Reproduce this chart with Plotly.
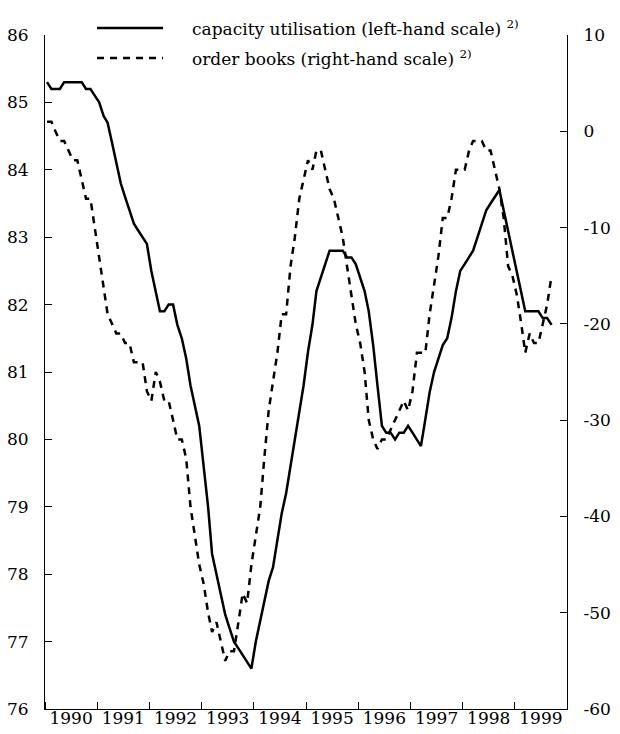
import pandas as pd
import plotly.graph_objects as go

# monthly observations, Jan 1990 - Sep 1999
months = pd.date_range("1990-01-01", periods=117, freq="MS") + pd.Timedelta(days=14)

capacity = [
    85.3, 85.2, 85.2, 85.2, 85.3, 85.3, 85.3, 85.3, 85.3, 85.2, 85.2, 85.1,  # 1990
    85.0, 84.8, 84.7, 84.4, 84.1, 83.8, 83.6, 83.4, 83.2, 83.1, 83.0, 82.9,  # 1991
    82.5, 82.2, 81.9, 81.9, 82.0, 82.0, 81.7, 81.5, 81.2, 80.8, 80.5, 80.2,  # 1992
    79.6, 79.0, 78.3, 78.0, 77.7, 77.4, 77.2, 77.0, 76.9, 76.8, 76.7, 76.6,  # 1993
    77.0, 77.3, 77.6, 77.9, 78.1, 78.5, 78.9, 79.2, 79.6, 80.0, 80.4, 80.8,  # 1994
    81.3, 81.7, 82.2, 82.4, 82.6, 82.8, 82.8, 82.8, 82.8, 82.7, 82.7, 82.6,  # 1995
    82.4, 82.2, 81.9, 81.4, 80.8, 80.2, 80.1, 80.1, 80.0, 80.1, 80.1, 80.2,  # 1996
    80.1, 80.0, 79.9, 80.3, 80.7, 81.0, 81.2, 81.4, 81.5, 81.8, 82.2, 82.5,  # 1997
    82.6, 82.7, 82.8, 83.0, 83.2, 83.4, 83.5, 83.6, 83.7, 83.4, 83.1, 82.8,  # 1998
    82.5, 82.2, 81.9, 81.9, 81.9, 81.9, 81.8, 81.8, 81.7,                    # 1999
]

order_books = [
    1, 1, 0, -1, -1, -2, -3, -3, -5, -7, -7, -10,              # 1990
    -13, -16, -19, -20, -21, -21, -22, -22, -24, -24, -24, -27,  # 1991
    -28, -25, -26, -28, -28, -30, -32, -32, -34, -39, -42, -45,  # 1992
    -47, -50, -52, -51, -53, -55, -54, -54, -51, -48, -49, -45,  # 1993
    -42, -39, -34, -29, -26, -23, -19, -19, -14, -11, -7, -5,   # 1994
    -3, -4, -2, -2, -4, -6, -7, -9, -11, -14, -17, -20,         # 1995
    -22, -25, -30, -32, -33, -32, -32, -31, -30, -29, -28, -29,  # 1996
    -27, -23, -23, -23, -19, -16, -13, -9, -9, -7, -4, -4,      # 1997
    -4, -2, -1, -1, -1, -2, -2, -4, -6, -9, -14, -15,           # 1998
    -17, -20, -23, -21, -22, -22, -20, -18, -15,                # 1999
]

left_ticks = [76, 77, 78, 79, 80, 81, 82, 83, 84, 85, 86]
right_ticks = [-60, -50, -40, -30, -20, -10, 0, 10]
right_labels = ["-60", "-50", "-40", "-30", "-20", "-10", "0", "10"]

FONT = "DejaVu Serif"

fig = go.Figure()
fig.add_trace(go.Scatter(x=months, y=capacity, mode="lines",
                         line=dict(color="black", width=2.5), yaxis="y"))
fig.add_trace(go.Scatter(x=months, y=order_books, mode="lines",
                         line=dict(color="black", width=2.5, dash="7px,6px"), yaxis="y2"))

fig.update_layout(
    width=620, height=734,
    margin=dict(l=45, r=53, t=35, b=25, autoexpand=False),
    paper_bgcolor="white", plot_bgcolor="white",
    showlegend=False,
    font=dict(family=FONT, size=17, color="black"),
    xaxis=dict(type="date", range=["1990-01-01", "2000-01-01"],
               tick0="1990-01-01", dtick="M12", tickformat="%Y",
               ticklabelmode="period", ticks="inside", ticklen=7,
               tickcolor="black", showline=True, linecolor="black",
               linewidth=1, showgrid=False, zeroline=False,
               ticklabelstandoff=-6, automargin=False),
    yaxis=dict(range=[76, 86], tickvals=left_ticks, ticks="inside",
               ticklen=7, tickcolor="black", showline=True,
               linecolor="black", linewidth=1, showgrid=False,
               zeroline=False, ticklabelstandoff=12, automargin=False),
    yaxis2=dict(range=[-60, 10], tickvals=right_ticks, ticktext=right_labels,
                overlaying="y", side="right", ticks="inside", ticklen=7,
                tickcolor="black", showline=True, linecolor="black",
                linewidth=1, showgrid=False, zeroline=False,
                ticklabelstandoff=12, automargin=False),
)

# legend drawn by hand
legend_items = [
    ("capacity utilisation (left-hand scale) <sup>2)</sup>", "solid", 1.0104),
    ("order books (right-hand scale) <sup>2)</sup>", "7px,6px", 0.9659),
]
for label, dash, ypos in legend_items:
    fig.add_shape(type="line", xref="paper", yref="paper",
                  x0=0.0997, x1=0.2262, y0=ypos, y1=ypos,
                  line=dict(color="black", width=2.5, dash=dash))
    fig.add_annotation(x=0.278, y=ypos, xref="paper", yref="paper",
                       text=label, showarrow=False, xanchor="left",
                       yanchor="middle", font=dict(family=FONT, size=17))

fig.write_html("out.html", config={"displayModeBar": False},
               post_script="document.body.style.margin='0';")
